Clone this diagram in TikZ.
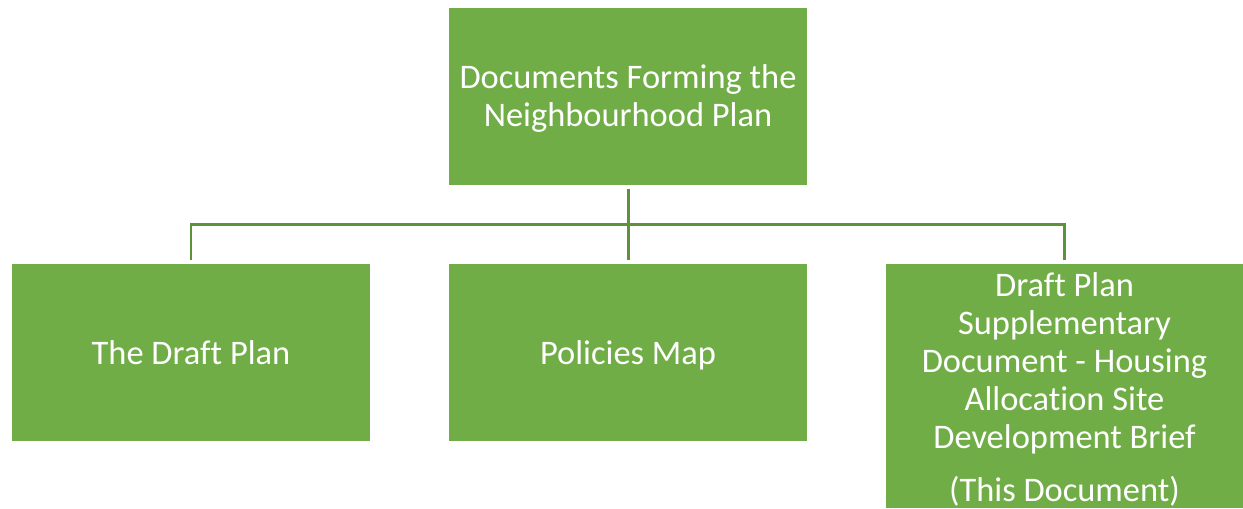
\documentclass[tikz,border=0pt]{standalone}
\usepackage{fontspec}
\setmainfont{Carlito}[Ligatures={NoCommon}]
\definecolor{boxgreen}{HTML}{70AD47}
\definecolor{linegreen}{HTML}{5E9239}
\begin{document}
\begin{tikzpicture}[x=0.02cm,y=-0.02cm,
        docbox/.style={fill=boxgreen,text=white,align=center,inner sep=0pt,
            minimum width=7.16cm,minimum height=3.54cm,
            font=\fontsize{19.6pt}{21.6pt}\selectfont},
        conn/.style={draw=linegreen,line width=1.7pt}]
        \useasboundingbox (0,0) rectangle (1243,508);
        %% top box
        \node[docbox] (top) at (628,96.5)
            {\raisebox{-0.06cm}[\height][\depth]{\begin{tabular}{@{}c@{}}Documents Forming the\\Neighbourhood Plan\end{tabular}}};
        %% bottom row
        \node[docbox] (draft) at (191,352.5) {The Draft Plan};
        \node[docbox] (map) at (628,352.5) {\raisebox{0pt}[\height][0pt]{Policies Map}};
        \node[docbox,minimum width=7.14cm,minimum height=4.88cm] (brief) at (1064.5,386)
            {\raisebox{-0.11cm}[\height][\depth]{\begin{tabular}{@{}c@{}}Draft Plan\\Supplementary\\Document - Housing\\Allocation Site\\Development Brief\\[0.32cm](This Document)\end{tabular}}};
        %% connectors
        \coordinate (bus) at (628,224);
        \draw[conn,shorten <=2pt,shorten >=2pt] (top.south) -- (map.north);
        \draw[conn,shorten <=2pt,shorten >=2pt] (draft.north) -- (draft |- bus) -- (brief |- bus) -- (brief.north);
    \end{tikzpicture}
\end{document}
